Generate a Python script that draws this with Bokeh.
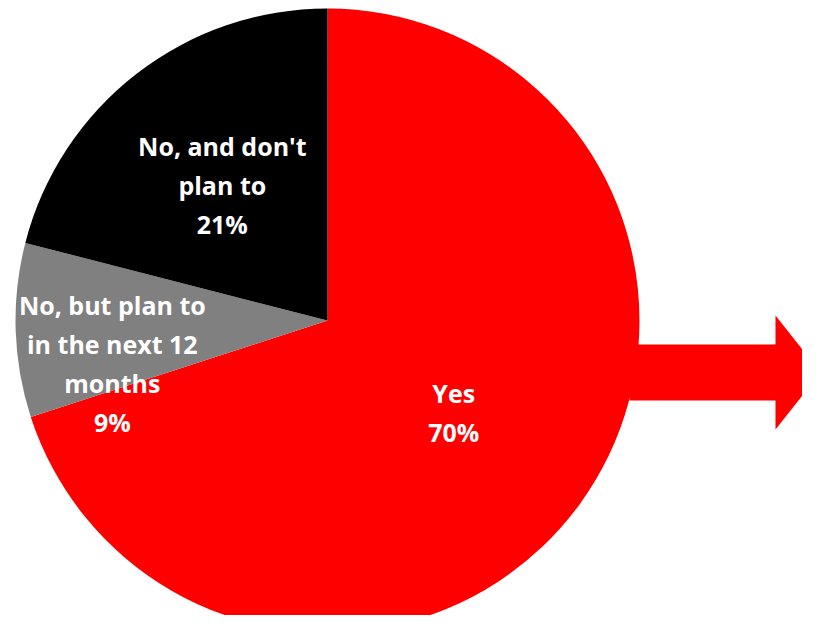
import math
from bokeh.plotting import figure
from bokeh.models import Range1d, ColumnDataSource
from bokeh.core.properties import value
from bokeh.embed import file_html
from bokeh.resources import INLINE

# ---- data ----
categories = ["Yes", "No, but plan to\nin the next 12\nmonths", "No, and don't\nplan to"]
percents = [70, 9, 21]
colors = ["#FF0000", "#808080", "#000000"]

# ---- layout (1 data unit = 1 px, y up) ----
W, H = 802, 615
cx, cy, R = 327, H - 320, 312      # pie centre / radius
label_r = [0.50, 0.69, 0.55]       # radial fraction for label anchor
label_dy = [0, -36, 0]             # extra vertical nudge

p = figure(width=W, height=H, x_range=Range1d(0, W), y_range=Range1d(0, H),
           output_backend="svg", toolbar_location=None, min_border=0)
p.axis.visible = False
p.grid.visible = False
p.outline_line_color = None
p.background_fill_color = "white"
p.border_fill_color = "white"

# wedges, clockwise from 12 o'clock
total = sum(percents)
starts, ends, mids = [], [], []
cum = 0.0
for v in percents:
    a0 = math.pi / 2 - 2 * math.pi * cum / total
    cum += v
    a1 = math.pi / 2 - 2 * math.pi * cum / total
    starts.append(a0); ends.append(a1); mids.append((a0 + a1) / 2)

# arrow (drawn behind the pie)
shaft_h, head_h = 56, 114
x0, x1, x2 = cx + R - 10, cx + R + 136, cx + R + 181
ay = cy - 52
p.patch([x0, x1, x1, x2, x1, x1, x0],
        [ay + shaft_h / 2, ay + shaft_h / 2, ay + head_h / 2, ay, ay - head_h / 2, ay - shaft_h / 2, ay - shaft_h / 2],
        fill_color="#FF0000", line_color=None)

src = ColumnDataSource(dict(start=starts, end=ends, color=colors))
p.wedge(x=cx, y=cy, radius=R, start_angle="start", end_angle="end", direction="clock",
        fill_color="color", line_color=None, source=src)

labels = [f"{c}\n{v}%" for c, v in zip(categories, percents)]
lx = [cx + R * f * math.cos(m) for f, m in zip(label_r, mids)]
ly = [cy + R * f * math.sin(m) + d for f, m, d in zip(label_r, mids, label_dy)]
p.text(x=lx, y=ly, text=labels, text_color="white", text_font=value("Open Sans"),
       text_font_style="bold", text_font_size="25px", text_align="center",
       text_baseline="middle", text_line_height=1.15)

open("out.html", "w").write(file_html(p, INLINE))
